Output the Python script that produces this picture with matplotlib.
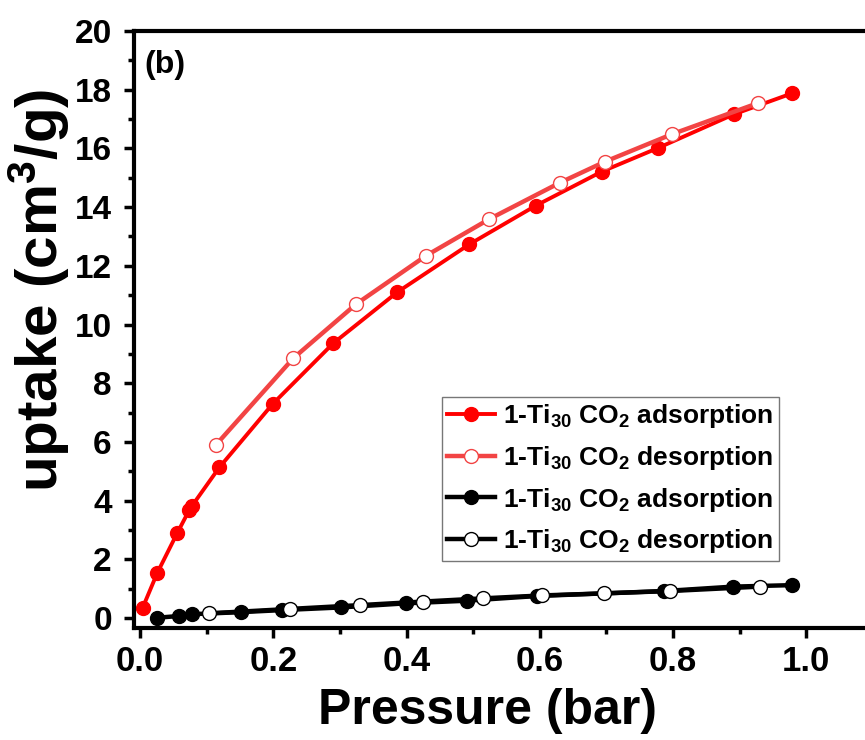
import matplotlib
matplotlib.use('Agg')
import matplotlib.pyplot as plt
from matplotlib.ticker import MultipleLocator

plt.rcParams['font.family'] = 'Liberation Sans'
plt.rcParams['font.weight'] = 'bold'
plt.rcParams['mathtext.fontset'] = 'custom'
plt.rcParams['mathtext.rm'] = 'Liberation Sans:bold'
plt.rcParams['mathtext.it'] = 'Liberation Sans:bold'
plt.rcParams['mathtext.bf'] = 'Liberation Sans:bold'
plt.rcParams['mathtext.default'] = 'rm'

# red: adsorption / desorption
red_ads_p = [0.004, 0.026, 0.056, 0.074, 0.078, 0.119, 0.199, 0.290, 0.386, 0.494,
             0.594, 0.693, 0.778, 0.891, 0.979]
red_ads_v = [0.35, 1.54, 2.90, 3.68, 3.82, 5.13, 7.29, 9.36, 11.10, 12.73,
             14.05, 15.21, 16.02, 17.16, 17.88]
red_des_p = [0.114, 0.230, 0.324, 0.429, 0.524, 0.630, 0.698, 0.799, 0.927]
red_des_v = [5.90, 8.85, 10.69, 12.34, 13.59, 14.83, 15.55, 16.49, 17.54]

# black: adsorption / desorption
blk_ads_p = [0.026, 0.059, 0.078, 0.151, 0.213, 0.301, 0.399, 0.491, 0.596, 0.787,
             0.890, 0.978]
blk_ads_v = [0.01, 0.07, 0.13, 0.20, 0.27, 0.36, 0.50, 0.59, 0.75, 0.92,
             1.07, 1.12]
blk_des_p = [0.104, 0.225, 0.330, 0.424, 0.514, 0.604, 0.697, 0.796, 0.930]
blk_des_v = [0.16, 0.31, 0.44, 0.56, 0.67, 0.77, 0.84, 0.92, 1.07]

label_ads = '1-Ti$_{30}$ CO$_2$ adsorption'
label_des = '1-Ti$_{30}$ CO$_2$ desorption'

fig = plt.figure(figsize=(8.65, 7.4), dpi=100)
ax = fig.add_axes([134 / 865, 112 / 740, 739 / 865, 597 / 740])

lw = 2.8
ms = 10
ax.plot(red_ads_p, red_ads_v, '-o', color='#FF0000', lw=lw, ms=ms,
        mfc='#FF0000', mec='#FF0000', label=label_ads)
ax.plot(red_des_p, red_des_v, '-o', color='#F24444', lw=lw + 0.4, ms=ms,
        mfc='white', mec='#F24444', mew=1.0, label=label_des)
ax.plot(blk_ads_p, blk_ads_v, '-o', color='black', lw=lw + 0.4, ms=ms,
        mfc='black', mec='black', label=label_ads)
ax.plot(blk_des_p, blk_des_v, '-o', color='black', lw=lw + 0.4, ms=ms,
        mfc='white', mec='black', mew=1.0, label=label_des)

ax.set_xlim(-0.009, 1.1)
ax.set_ylim(-0.34, 20)
ax.xaxis.set_major_locator(MultipleLocator(0.2))
ax.xaxis.set_minor_locator(MultipleLocator(0.1))
ax.yaxis.set_major_locator(MultipleLocator(2))
ax.yaxis.set_minor_locator(MultipleLocator(1))
ax.xaxis.set_major_formatter(matplotlib.ticker.FormatStrFormatter('%.1f'))

for s in ax.spines.values():
    s.set_linewidth(3)
ax.tick_params(which='major', direction='out', length=7, width=2.5)
ax.tick_params(which='minor', direction='out', length=4, width=2.5)
ax.tick_params(axis='x', which='major', labelsize=25, pad=5)
ax.tick_params(axis='y', which='major', labelsize=24, pad=9)
ax.tick_params(top=False, right=False)

ax.set_xlabel('Pressure (bar)', fontsize=36, fontweight='bold')
ax.set_ylabel('uptake (cm$^{3}$/g)', fontsize=42, fontweight='bold')
ax.xaxis.set_label_coords(0.478, -0.1)
ax.yaxis.set_label_coords(-0.084, 0.566)
ax.xaxis.label.set_va('top')

ax.text(0.014, 0.968, '(b)', transform=ax.transAxes, fontsize=23,
        fontweight='bold', va='top', ha='left')

leg = ax.legend(loc='upper left', bbox_to_anchor=(0.417, 0.387), fontsize=19,
                frameon=True, fancybox=False, edgecolor='#555555',
                handlelength=1.8, handletextpad=0.3, labelspacing=0.52,
                borderpad=0.2, borderaxespad=0)
leg.get_frame().set_linewidth(1.0)

fig.savefig('out.png', dpi=100)
